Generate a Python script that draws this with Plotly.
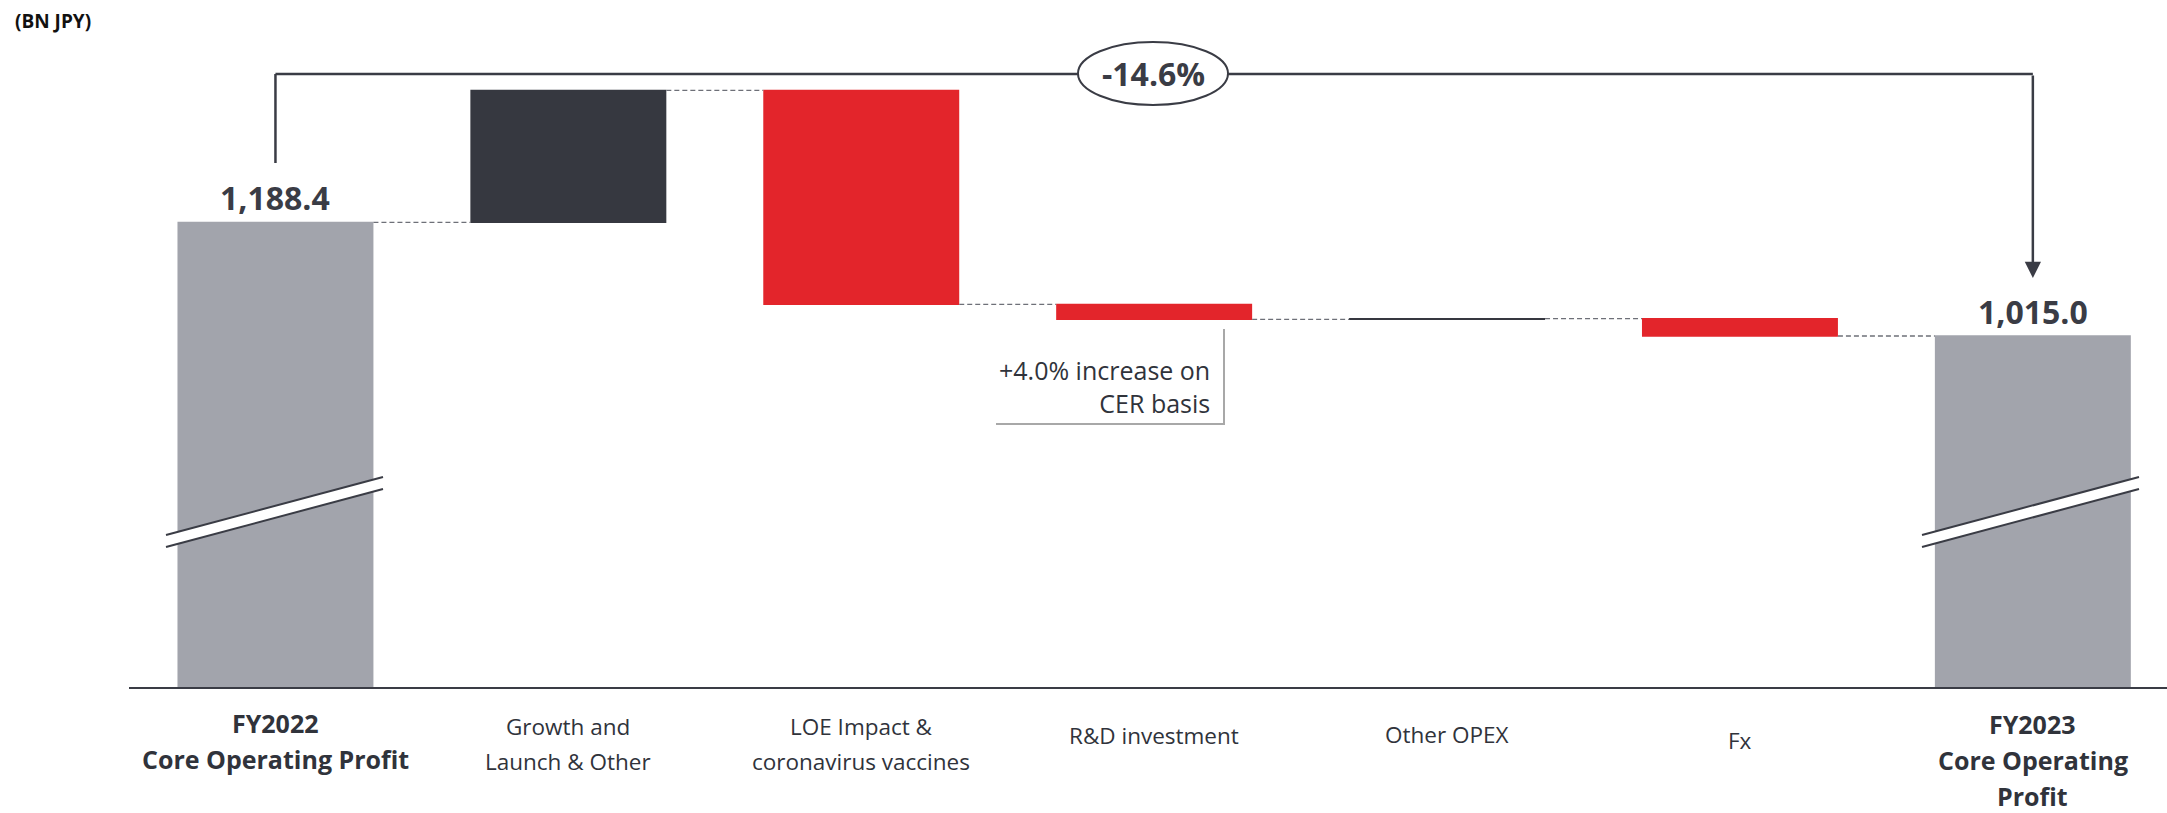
import plotly.graph_objects as go

# ---------------- data ----------------
categories = ["FY2022<br>Core Operating Profit", "Growth and<br>Launch & Other",
              "LOE Impact &<br>coronavirus vaccines", "R&D investment", "Other OPEX", "Fx",
              "FY2023<br>Core Operating<br>Profit"]
cat_ids = ["c0", "c1", "c2", "c3", "c4", "c5", "c6"]
measures = ["absolute", "relative", "relative", "relative", "relative", "relative", "total"]
values = [1188.4, 201.3, -326.4, -22.9, 1.0, -26.4, 0]
bold_cats = [True, False, False, False, False, False, True]
label_first_line_y = [723, 726, 726, 735, 734, 740, 724]   # px centre of first label line
unit_label = "(BN JPY)"
cer_note = "+4.0% increase on<br>CER basis"

# ---------------- geometry helpers ----------------
W, H = 2167, 813
L, R, T, B = 129, 0, 60, 126
PW, PH = W - L - R, H - T - B
Y0 = 479.7
PX_PER_UNIT = 0.6557
Y1 = Y0 + PH / PX_PER_UNIT


def px(xp):
    return (xp - L) / PW


def py(yp):
    return (H - B - yp) / PH


start_val = values[0]
end_val = start_val + sum(values[1:6])

DARK = "#363840"
RED = "#e3252b"
GRAY = "#a2a4ac"
LINE = "#3a3c45"
TXT = "#30333b"
FONT = "Open Sans"

fig = go.Figure()
fig.add_trace(go.Waterfall(
    x=cat_ids, y=values, measure=measures,
    increasing=dict(marker=dict(color=DARK, line=dict(width=0))),
    decreasing=dict(marker=dict(color=RED, line=dict(width=0))),
    totals=dict(marker=dict(color=GRAY, line=dict(width=0))),
    connector=dict(mode="between", line=dict(color="#6e7078", width=1.3, dash="5px,3px")),
    textinfo="none", hoverinfo="skip", showlegend=False,
))

shapes = []
annotations = []

# category labels
for i, (cid, lab) in enumerate(zip(cat_ids, categories)):
    lines = lab.split("<br>")
    step = 36 if bold_cats[i] else 35
    for j, ln in enumerate(lines):
        yc = label_first_line_y[i] + j * step
        annotations.append(dict(
            x=cid, xref="x", y=0, yref="paper", yanchor="middle", xanchor="center",
            yshift=-(yc - (H - B)), showarrow=False,
            text=f"<b>{ln}</b>" if bold_cats[i] else ln,
            font=dict(family=FONT, size=25 if bold_cats[i] else 22.5, color=TXT)))

# value labels on total bars
for cid, v in [(cat_ids[0], start_val), (cat_ids[-1], end_val)]:
    annotations.append(dict(x=cid, y=v, xref="x", yref="y", yanchor="middle", yshift=25,
                            showarrow=False, text=f"<b>{v:,.1f}</b>",
                            font=dict(family=FONT, size=32, color=LINE)))

# unit label
annotations.append(dict(x=px(13), y=py(21), xref="paper", yref="paper", xanchor="left",
                        yanchor="middle", showarrow=False, text=f"<b>{unit_label}</b>",
                        font=dict(family=FONT, size=19, color="#111111")))

# bracket with change %
yb = py(74)
shapes.append(dict(type="line", xref="x", yref="paper", x0=0, x1=0, y0=py(163), y1=yb,
                   line=dict(color=LINE, width=2.5)))
shapes.append(dict(type="line", xref="x", yref="paper", x0=0, x1=6, y0=yb, y1=yb,
                   line=dict(color=LINE, width=2.5)))
annotations.append(dict(x=6, xref="x", y=py(278), yref="paper", ax=0, ay=-(278 - 74),
                        showarrow=True, arrowhead=2, arrowsize=1.3, arrowwidth=2.5,
                        arrowcolor=LINE, text=""))
shapes.append(dict(type="circle", xref="paper", yref="paper", x0=px(1078), x1=px(1228),
                   y0=py(105), y1=py(42), fillcolor="white", line=dict(color=LINE, width=2)))
pct = (end_val / start_val - 1) * 100
annotations.append(dict(x=px(1153), y=py(74), xref="paper", yref="paper", showarrow=False,
                        xanchor="center", yanchor="middle",
                        text=f"<b>{pct:.1f}%</b>", font=dict(family=FONT, size=32, color=LINE)))

# CER note box
shapes.append(dict(type="line", xref="paper", yref="paper", x0=px(1224), x1=px(1224),
                   y0=py(329), y1=py(424), line=dict(color="#a8a8a8", width=2)))
shapes.append(dict(type="line", xref="paper", yref="paper", x0=px(996), x1=px(1225),
                   y0=py(424), y1=py(424), line=dict(color="#a8a8a8", width=2)))
annotations.append(dict(x=px(1212), y=py(386), xref="paper", yref="paper", xanchor="right",
                        yanchor="middle", align="right", showarrow=False, text=cer_note,
                        font=dict(family=FONT, size=25, color=TXT)))

# axis break marks
for (xa, xb) in [(166, 383), (1922, 2139)]:
    ya1, yb1 = 535, 477
    path = (f"M {px(xa)},{py(ya1)} L {px(xb)},{py(yb1)} L {px(xb)},{py(yb1 + 12)} "
            f"L {px(xa)},{py(ya1 + 12)} Z")
    shapes.append(dict(type="path", xref="paper", yref="paper", path=path,
                       fillcolor="white", line=dict(width=0)))
    for off in (0, 12):
        shapes.append(dict(type="line", xref="paper", yref="paper", x0=px(xa), y0=py(ya1 + off),
                           x1=px(xb), y1=py(yb1 + off), line=dict(color=LINE, width=2)))

fig.update_layout(
    width=W, height=H,
    margin=dict(l=L, r=R, t=T, b=B),
    paper_bgcolor="white", plot_bgcolor="white",
    waterfallgap=0.331,
    showlegend=False,
    shapes=shapes, annotations=annotations,
    xaxis=dict(type="category", categoryorder="array", categoryarray=cat_ids,
               range=[-0.5, -0.5 + PW / 292.9], showticklabels=False, ticks="",
               showgrid=False, zeroline=False, showline=True, linecolor=LINE, linewidth=2),
    yaxis=dict(range=[Y0, Y1], visible=False, showgrid=False, zeroline=False),
)

fig.write_html("out.html")
